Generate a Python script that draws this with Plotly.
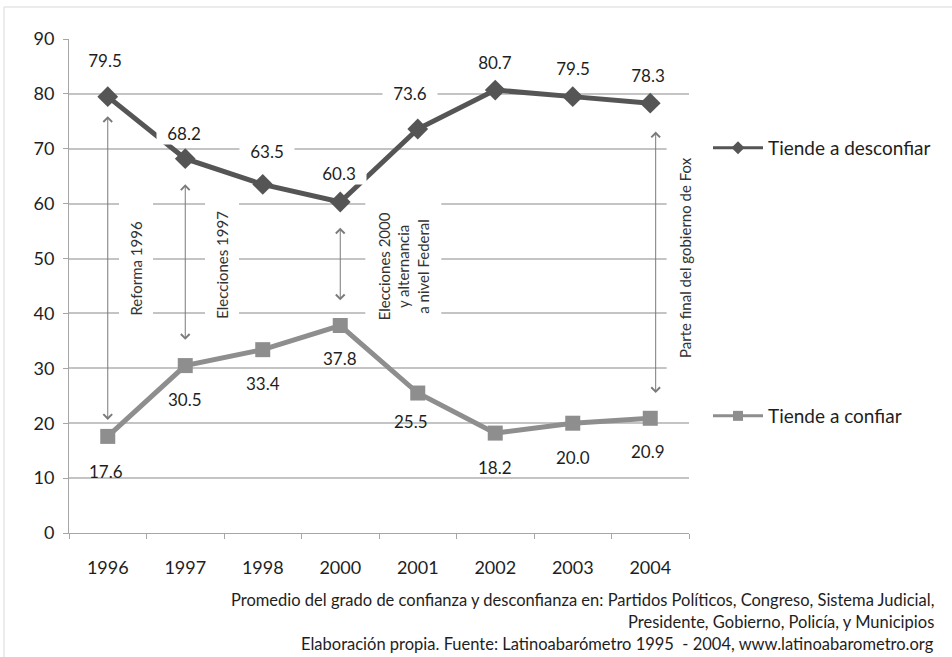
import plotly.graph_objects as go

# Survey years and averaged trust / distrust percentages
years = ["1996", "1997", "1998", "2000", "2001", "2002", "2003", "2004"]
desconfiar = [79.5, 68.2, 63.5, 60.3, 73.6, 80.7, 79.5, 78.3]
confiar = [17.6, 30.5, 33.4, 37.8, 25.5, 18.2, 20.0, 20.9]

FONT = "Lato"
DARK = "#555555"
LIGHT = "#8e8e8e"
GRID = "#c4c4c4"
TXT = "#1e1e1e"

# pixel offsets for value labels (x shift, y shift)
desc_off = [(-3, 37), (-1, 26), (4, 33), (-1, 29), (-8, 36), (0, 28), (0, 29), (-2, 28)]
conf_off = [(-2, -35), (0, -34), (0, -34), (0, -33), (-7, -28), (0, -34), (0, -34), (-2, -33)]

fig = go.Figure()
fig.add_trace(go.Scatter(
    x=years, y=desconfiar, name="Tiende a desconfiar", mode="lines+markers",
    line=dict(color=DARK, width=5),
    marker=dict(symbol="diamond", size=16, color=DARK),
    showlegend=False,
))
fig.add_trace(go.Scatter(
    x=years, y=confiar, name="Tiende a confiar", mode="lines+markers",
    line=dict(color=LIGHT, width=5),
    marker=dict(symbol="square", size=15, color=LIGHT),
    showlegend=False,
))
# legend entries with the smaller key symbols
fig.add_trace(go.Scatter(
    x=[None], y=[None], name="Tiende a desconfiar", mode="lines+markers",
    line=dict(color=DARK, width=3), marker=dict(symbol="diamond", size=10, color=DARK),
    legend="legend",
))
fig.add_trace(go.Scatter(
    x=[None], y=[None], name="Tiende a confiar", mode="lines+markers",
    line=dict(color=LIGHT, width=3), marker=dict(symbol="square", size=10, color=LIGHT),
    legend="legend2",
))

ann = []
for i, v in enumerate(desconfiar):
    dx, dy = desc_off[i]
    ann.append(dict(x=i, y=v, xref="x", yref="y", text=f"{v:.1f}", showarrow=False,
                    xshift=dx, yshift=dy, bgcolor="white", width=50, height=18, borderpad=2,
                    font=dict(family=FONT, size=17, color=TXT)))
for i, v in enumerate(confiar):
    dx, dy = conf_off[i]
    ann.append(dict(x=i, y=v, xref="x", yref="y", text=f"{v:.1f}", showarrow=False,
                    xshift=dx, yshift=dy,
                    font=dict(family=FONT, size=17, color=TXT)))

# double-headed arrows marking the gap between the two series
arrows = [(0, 76.2, 20.6), (1, 63.8, 35.2), (3, 55.9, 42.4), (7.07, 73.4, 25.5)]
for x, top, bot in arrows:
    ann.append(dict(x=x, y=bot, ax=x, ay=top, xref="x", yref="y", axref="x", ayref="y",
                    text="", showarrow=True, arrowside="end+start",
                    arrowhead=4, startarrowhead=4, arrowsize=1.7, startarrowsize=1.7,
                    arrowwidth=1, arrowcolor="#7a7a7a"))

# rotated event notes
notes = [
    (0.37, 48.3, "Reforma 1996", 130, 33),
    (1.47, 48.8, "Elecciones 1997", 130, 33),
    (3.81, 48.6, "Elecciones 2000<br>y alternancia<br>a nivel Federal", 130, 75),
    (7.45, 50.1, "Parte final del gobierno de Fox", 235, 36),
]
for x, y, t, w, h in notes:
    ann.append(dict(x=x, y=y, xref="x", yref="y", text=t, showarrow=False, textangle=-90,
                    bgcolor="white", width=w, height=h, borderpad=0,
                    font=dict(family=FONT, size=15, color="#333333")))

# source note
foot = [
    ("Promedio del grado de confianza y desconfianza en: Partidos Políticos, Congreso, Sistema Judicial,", 600),
    ("Presidente, Gobierno, Policía, y Municipios", 622),
    ("Elaboración propia. Fuente: Latinoabarómetro 1995  - 2004, www.latinoabarometro.org", 644),
]
for t, py in foot:
    ann.append(dict(x=(936 - 69) / 620, y=(533 - py) / 494, xref="paper", yref="paper",
                    xanchor="right", yanchor="middle", text=t, showarrow=False,
                    font=dict(family=FONT, size=16.5, color=TXT)))

leg_common = dict(xanchor="left", yanchor="middle", itemwidth=50,
                  font=dict(family=FONT, size=19, color=TXT), bgcolor="rgba(0,0,0,0)")
fig.update_layout(
    width=952, height=657,
    margin=dict(l=69, r=263, t=39, b=124),
    paper_bgcolor="white", plot_bgcolor="white",
    font=dict(family=FONT, color=TXT),
    annotations=ann,
    shapes=[dict(type="rect", xref="paper", yref="paper",
                 x0=(4 - 69) / 620, x1=(960 - 69) / 620,
                 y0=(533 - 665) / 494, y1=(533 - 7) / 494,
                 line=dict(color="#d9d9d9", width=1), layer="below")],
    legend=dict(x=(708 - 69) / 620, y=(533 - 148) / 494, **leg_common),
    legend2=dict(x=(708 - 69) / 620, y=(533 - 416) / 494, **leg_common),
    showlegend=True,
)
fig.update_xaxes(type="category", categoryorder="array", categoryarray=years,
                 showgrid=False, showline=True, linecolor="#a6a6a6", linewidth=1,
                 ticks="outside", tickson="boundaries", ticklen=5, tickcolor="#a6a6a6",
                 ticklabelstandoff=18,
                 tickfont=dict(family=FONT, size=18, color=TXT), range=[-0.5, 7.5])
fig.update_yaxes(range=[0, 90], dtick=10, showgrid=True, gridcolor=GRID, gridwidth=1.5,
                 showline=True, linecolor="#a6a6a6", linewidth=1, zeroline=False,
                 ticks="outside", ticklen=5, tickcolor="#a6a6a6", ticklabelstandoff=5,
                 tickfont=dict(family=FONT, size=18, color=TXT))

fig.write_html("out.html")
